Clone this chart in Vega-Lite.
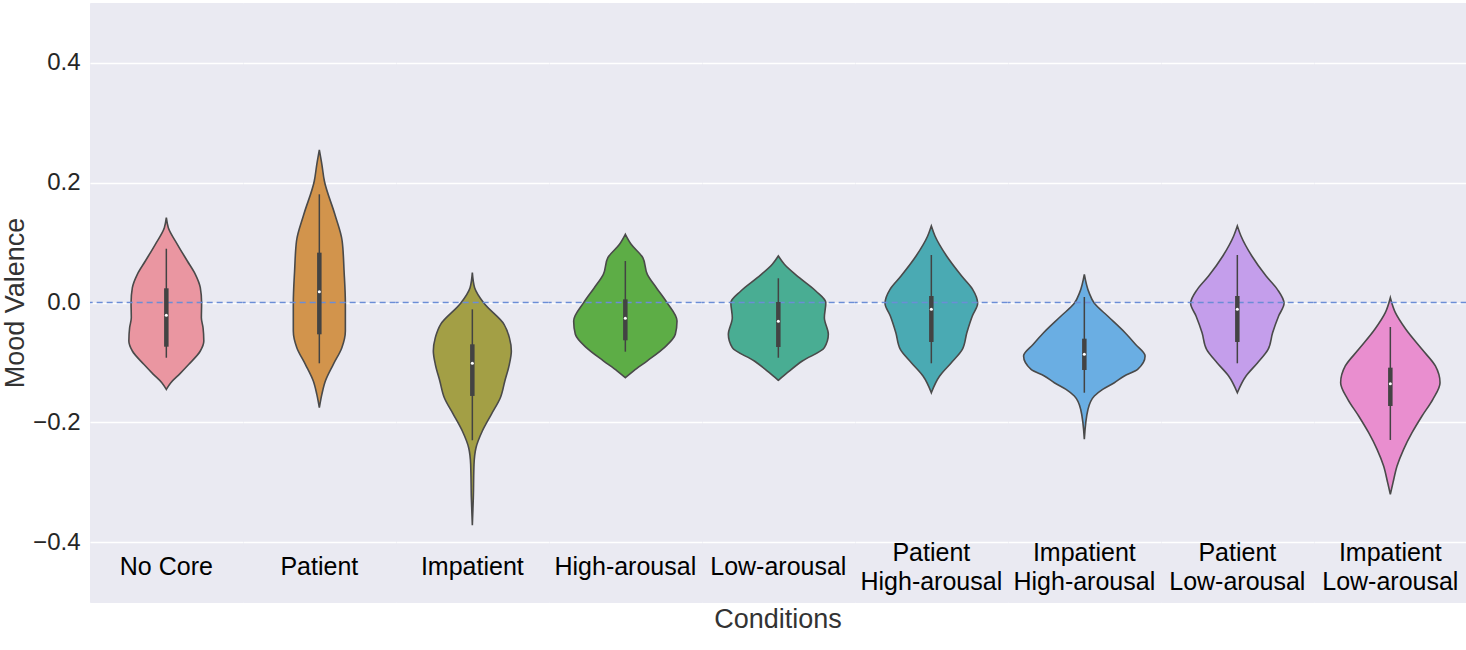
{
  "$schema": "https://vega.github.io/schema/vega-lite/v6.json",
  "background": "white",
  "padding": {"left": 1, "top": 2, "right": 2, "bottom": 2},
  "bounds": "flush",
  "config": {
    "font": "Liberation Sans",
    "view": {"fill": "#EAEAF2", "stroke": "#EAEAF2", "strokeWidth": 1},
    "facet": {"spacing": 0},
    "axis": {
      "grid": true,
      "gridColor": "#ffffff",
      "gridWidth": 1.5,
      "domain": false,
      "ticks": false,
      "labelFontSize": 24,
      "labelColor": "#262626",
      "labelPadding": 10,
      "titleFontSize": 27,
      "titleColor": "#333333",
      "titleFontWeight": "normal",
      "titlePadding": 3
    }
  },
  "data": {
    "values": [
      {"kind": "profile", "condition": "No Core", "value": 0.1416, "density": 0},
      {"kind": "profile", "condition": "No Core", "value": 0.1249, "density": 0.026},
      {"kind": "profile", "condition": "No Core", "value": 0.0972, "density": 0.144},
      {"kind": "profile", "condition": "No Core", "value": 0.0693, "density": 0.275},
      {"kind": "profile", "condition": "No Core", "value": 0.0471, "density": 0.38},
      {"kind": "profile", "condition": "No Core", "value": 0.0247, "density": 0.445},
      {"kind": "profile", "condition": "No Core", "value": -0.0003, "density": 0.462},
      {"kind": "profile", "condition": "No Core", "value": -0.0254, "density": 0.459},
      {"kind": "profile", "condition": "No Core", "value": -0.0421, "density": 0.481},
      {"kind": "profile", "condition": "No Core", "value": -0.0643, "density": 0.491},
      {"kind": "profile", "condition": "No Core", "value": -0.081, "density": 0.445},
      {"kind": "profile", "condition": "No Core", "value": -0.1032, "density": 0.295},
      {"kind": "profile", "condition": "No Core", "value": -0.1199, "density": 0.17},
      {"kind": "profile", "condition": "No Core", "value": -0.1339, "density": 0.059},
      {"kind": "profile", "condition": "No Core", "value": -0.145, "density": 0},

      {"kind": "profile", "condition": "Patient", "value": 0.2546, "density": 0},
      {"kind": "profile", "condition": "Patient", "value": 0.2307, "density": 0.033},
      {"kind": "profile", "condition": "Patient", "value": 0.2028, "density": 0.066},
      {"kind": "profile", "condition": "Patient", "value": 0.1472, "density": 0.203},
      {"kind": "profile", "condition": "Patient", "value": 0.1027, "density": 0.299},
      {"kind": "profile", "condition": "Patient", "value": 0.0526, "density": 0.324},
      {"kind": "profile", "condition": "Patient", "value": -0.0014, "density": 0.341},
      {"kind": "profile", "condition": "Patient", "value": -0.0476, "density": 0.341},
      {"kind": "profile", "condition": "Patient", "value": -0.0754, "density": 0.295},
      {"kind": "profile", "condition": "Patient", "value": -0.1032, "density": 0.183},
      {"kind": "profile", "condition": "Patient", "value": -0.131, "density": 0.079},
      {"kind": "profile", "condition": "Patient", "value": -0.1533, "density": 0.033},
      {"kind": "profile", "condition": "Patient", "value": -0.1756, "density": 0},

      {"kind": "profile", "condition": "Impatient", "value": 0.0498, "density": 0},
      {"kind": "profile", "condition": "Impatient", "value": 0.0247, "density": 0.03},
      {"kind": "profile", "condition": "Impatient", "value": -0.0014, "density": 0.153},
      {"kind": "profile", "condition": "Impatient", "value": -0.0364, "density": 0.415},
      {"kind": "profile", "condition": "Impatient", "value": -0.0587, "density": 0.485},
      {"kind": "profile", "condition": "Impatient", "value": -0.081, "density": 0.511},
      {"kind": "profile", "condition": "Impatient", "value": -0.1032, "density": 0.485},
      {"kind": "profile", "condition": "Impatient", "value": -0.131, "density": 0.426},
      {"kind": "profile", "condition": "Impatient", "value": -0.159, "density": 0.367},
      {"kind": "profile", "condition": "Impatient", "value": -0.1866, "density": 0.249},
      {"kind": "profile", "condition": "Impatient", "value": -0.2145, "density": 0.131},
      {"kind": "profile", "condition": "Impatient", "value": -0.2424, "density": 0.048},
      {"kind": "profile", "condition": "Impatient", "value": -0.2701, "density": 0.022},
      {"kind": "profile", "condition": "Impatient", "value": -0.3259, "density": 0.013},
      {"kind": "profile", "condition": "Impatient", "value": -0.372, "density": 0},

      {"kind": "profile", "condition": "High-arousal", "value": 0.1138, "density": 0},
      {"kind": "profile", "condition": "High-arousal", "value": 0.0972, "density": 0.076},
      {"kind": "profile", "condition": "High-arousal", "value": 0.0748, "density": 0.229},
      {"kind": "profile", "condition": "High-arousal", "value": 0.0471, "density": 0.288},
      {"kind": "profile", "condition": "High-arousal", "value": 0.0247, "density": 0.406},
      {"kind": "profile", "condition": "High-arousal", "value": -0.0003, "density": 0.546},
      {"kind": "profile", "condition": "High-arousal", "value": -0.0309, "density": 0.677},
      {"kind": "profile", "condition": "High-arousal", "value": -0.0531, "density": 0.655},
      {"kind": "profile", "condition": "High-arousal", "value": -0.0754, "density": 0.511},
      {"kind": "profile", "condition": "High-arousal", "value": -0.0977, "density": 0.284},
      {"kind": "profile", "condition": "High-arousal", "value": -0.1144, "density": 0.105},
      {"kind": "profile", "condition": "High-arousal", "value": -0.1255, "density": 0},

      {"kind": "profile", "condition": "Low-arousal", "value": 0.0776, "density": 0},
      {"kind": "profile", "condition": "Low-arousal", "value": 0.0638, "density": 0.079},
      {"kind": "profile", "condition": "Low-arousal", "value": 0.0414, "density": 0.275},
      {"kind": "profile", "condition": "Low-arousal", "value": 0.0192, "density": 0.491},
      {"kind": "profile", "condition": "Low-arousal", "value": -0.0003, "density": 0.622},
      {"kind": "profile", "condition": "Low-arousal", "value": -0.0254, "density": 0.603},
      {"kind": "profile", "condition": "Low-arousal", "value": -0.0531, "density": 0.655},
      {"kind": "profile", "condition": "Low-arousal", "value": -0.0754, "density": 0.603},
      {"kind": "profile", "condition": "Low-arousal", "value": -0.0977, "density": 0.314},
      {"kind": "profile", "condition": "Low-arousal", "value": -0.1172, "density": 0.118},
      {"kind": "profile", "condition": "Low-arousal", "value": -0.1299, "density": 0},

      {"kind": "profile", "condition": "Patient High-arousal", "value": 0.1277, "density": 0},
      {"kind": "profile", "condition": "Patient High-arousal", "value": 0.111, "density": 0.048},
      {"kind": "profile", "condition": "Patient High-arousal", "value": 0.0776, "density": 0.2},
      {"kind": "profile", "condition": "Patient High-arousal", "value": 0.0442, "density": 0.397},
      {"kind": "profile", "condition": "Patient High-arousal", "value": 0.022, "density": 0.541},
      {"kind": "profile", "condition": "Patient High-arousal", "value": -0.0014, "density": 0.607},
      {"kind": "profile", "condition": "Patient High-arousal", "value": -0.0225, "density": 0.537},
      {"kind": "profile", "condition": "Patient High-arousal", "value": -0.0504, "density": 0.465},
      {"kind": "profile", "condition": "Patient High-arousal", "value": -0.0782, "density": 0.406},
      {"kind": "profile", "condition": "Patient High-arousal", "value": -0.1005, "density": 0.262},
      {"kind": "profile", "condition": "Patient High-arousal", "value": -0.1227, "density": 0.109},
      {"kind": "profile", "condition": "Patient High-arousal", "value": -0.1506, "density": 0},

      {"kind": "profile", "condition": "Impatient High-arousal", "value": 0.0471, "density": 0},
      {"kind": "profile", "condition": "Impatient High-arousal", "value": 0.0164, "density": 0.062},
      {"kind": "profile", "condition": "Impatient High-arousal", "value": -0.0014, "density": 0.131},
      {"kind": "profile", "condition": "Impatient High-arousal", "value": -0.0225, "density": 0.305},
      {"kind": "profile", "condition": "Impatient High-arousal", "value": -0.0504, "density": 0.534},
      {"kind": "profile", "condition": "Impatient High-arousal", "value": -0.07, "density": 0.672},
      {"kind": "profile", "condition": "Impatient High-arousal", "value": -0.0893, "density": 0.796},
      {"kind": "profile", "condition": "Impatient High-arousal", "value": -0.1116, "density": 0.698},
      {"kind": "profile", "condition": "Impatient High-arousal", "value": -0.1227, "density": 0.524},
      {"kind": "profile", "condition": "Impatient High-arousal", "value": -0.1339, "density": 0.393},
      {"kind": "profile", "condition": "Impatient High-arousal", "value": -0.145, "density": 0.24},
      {"kind": "profile", "condition": "Impatient High-arousal", "value": -0.1561, "density": 0.131},
      {"kind": "profile", "condition": "Impatient High-arousal", "value": -0.1783, "density": 0.048},
      {"kind": "profile", "condition": "Impatient High-arousal", "value": -0.2284, "density": 0},

      {"kind": "profile", "condition": "Patient Low-arousal", "value": 0.1277, "density": 0},
      {"kind": "profile", "condition": "Patient Low-arousal", "value": 0.111, "density": 0.048},
      {"kind": "profile", "condition": "Patient Low-arousal", "value": 0.0776, "density": 0.19},
      {"kind": "profile", "condition": "Patient Low-arousal", "value": 0.0442, "density": 0.377},
      {"kind": "profile", "condition": "Patient Low-arousal", "value": 0.022, "density": 0.524},
      {"kind": "profile", "condition": "Patient Low-arousal", "value": -0.0014, "density": 0.612},
      {"kind": "profile", "condition": "Patient Low-arousal", "value": -0.0225, "density": 0.541},
      {"kind": "profile", "condition": "Patient Low-arousal", "value": -0.0504, "density": 0.462},
      {"kind": "profile", "condition": "Patient Low-arousal", "value": -0.0782, "density": 0.403},
      {"kind": "profile", "condition": "Patient Low-arousal", "value": -0.1005, "density": 0.266},
      {"kind": "profile", "condition": "Patient Low-arousal", "value": -0.1227, "density": 0.114},
      {"kind": "profile", "condition": "Patient Low-arousal", "value": -0.1506, "density": 0},

      {"kind": "profile", "condition": "Impatient Low-arousal", "value": 0.008, "density": 0},
      {"kind": "profile", "condition": "Impatient Low-arousal", "value": -0.017, "density": 0.066},
      {"kind": "profile", "condition": "Impatient Low-arousal", "value": -0.0447, "density": 0.203},
      {"kind": "profile", "condition": "Impatient Low-arousal", "value": -0.0782, "density": 0.415},
      {"kind": "profile", "condition": "Impatient Low-arousal", "value": -0.106, "density": 0.59},
      {"kind": "profile", "condition": "Impatient Low-arousal", "value": -0.1339, "density": 0.651},
      {"kind": "profile", "condition": "Impatient Low-arousal", "value": -0.1616, "density": 0.557},
      {"kind": "profile", "condition": "Impatient Low-arousal", "value": -0.1895, "density": 0.415},
      {"kind": "profile", "condition": "Impatient Low-arousal", "value": -0.2174, "density": 0.284},
      {"kind": "profile", "condition": "Impatient Low-arousal", "value": -0.2451, "density": 0.174},
      {"kind": "profile", "condition": "Impatient Low-arousal", "value": -0.273, "density": 0.088},
      {"kind": "profile", "condition": "Impatient Low-arousal", "value": -0.3008, "density": 0.035},
      {"kind": "profile", "condition": "Impatient Low-arousal", "value": -0.3202, "density": 0},

      {"kind": "stats", "condition": "No Core", "label": "No Core", "lines": 1, "lo": -0.0922, "q1": -0.0738, "median": -0.0214, "q3": 0.0237, "hi": 0.0898},
      {"kind": "stats", "condition": "Patient", "label": "Patient", "lines": 1, "lo": -0.1015, "q1": -0.0531, "median": 0.018, "q3": 0.0832, "hi": 0.1806},
      {"kind": "stats", "condition": "Impatient", "label": "Impatient", "lines": 1, "lo": -0.23, "q1": -0.156, "median": -0.1015, "q3": -0.0698, "hi": -0.0114},
      {"kind": "stats", "condition": "High-arousal", "label": "High-arousal", "lines": 1, "lo": -0.0821, "q1": -0.0631, "median": -0.0264, "q3": 0.0053, "hi": 0.0693},
      {"kind": "stats", "condition": "Low-arousal", "label": "Low-arousal", "lines": 1, "lo": -0.0922, "q1": -0.0743, "median": -0.0314, "q3": 0.0008, "hi": 0.0404},
      {"kind": "stats", "condition": "Patient High-arousal", "label": "Patient\nHigh-arousal", "lines": 2, "lo": -0.1015, "q1": -0.0659, "median": -0.0114, "q3": 0.0109, "hi": 0.0793},
      {"kind": "stats", "condition": "Impatient High-arousal", "label": "Impatient\nHigh-arousal", "lines": 2, "lo": -0.1506, "q1": -0.1127, "median": -0.0865, "q3": -0.0604, "hi": 0.0092},
      {"kind": "stats", "condition": "Patient Low-arousal", "label": "Patient\nLow-arousal", "lines": 2, "lo": -0.1015, "q1": -0.0659, "median": -0.0114, "q3": 0.0109, "hi": 0.0793},
      {"kind": "stats", "condition": "Impatient Low-arousal", "label": "Impatient\nLow-arousal", "lines": 2, "lo": -0.2295, "q1": -0.1728, "median": -0.1356, "q3": -0.1088, "hi": -0.0409}
    ]
  },
  "spacing": 0,
  "facet": {
    "column": {
      "field": "condition",
      "type": "nominal",
      "sort": ["No Core", "Patient", "Impatient", "High-arousal", "Low-arousal", "Patient High-arousal", "Impatient High-arousal", "Patient Low-arousal", "Impatient Low-arousal"],
      "header": {
        "title": "Conditions",
        "titleOrient": "bottom",
        "labels": false,
        "titleFontSize": 27,
        "titleFontWeight": "normal",
        "titleColor": "#333333",
        "titlePadding": -5
      }
    }
  },
  "spec": {
    "width": 152.67,
    "height": 599,
    "layer": [
      {
        "transform": [
          {"filter": "datum.kind === 'profile'"},
          {"calculate": "-datum.density / 2", "as": "left"},
          {"calculate": "datum.density / 2", "as": "right"}
        ],
        "mark": {"type": "area", "orient": "horizontal", "interpolate": "monotone", "stroke": "#4a4a4a", "strokeWidth": 1.6},
        "encoding": {
          "x": {"field": "left", "type": "quantitative", "scale": {"domain": [-0.5, 0.5]}, "axis": null},
          "x2": {"field": "right"},
          "y": {
            "field": "value",
            "type": "quantitative",
            "title": "Mood Valence",
            "scale": {"domain": [-0.5, 0.5], "nice": false},
            "axis": {"values": [-0.4, -0.2, 0, 0.2, 0.4], "format": ".1f"}
          },
          "color": {
            "field": "condition",
            "type": "nominal",
            "legend": null,
            "scale": {
              "domain": ["No Core", "Patient", "Impatient", "High-arousal", "Low-arousal", "Patient High-arousal", "Impatient High-arousal", "Patient Low-arousal", "Impatient Low-arousal"],
              "range": ["#EA96A1", "#D2944C", "#A39F45", "#5DAD46", "#49AD93", "#4AAAB3", "#6AAEE3", "#C49EEB", "#E98ECF"]
            }
          }
        }
      },
      {
        "transform": [{"filter": "datum.kind === 'stats'"}],
        "mark": {"type": "rule", "color": "#6B8DD6", "strokeDash": [6, 4], "strokeWidth": 1.5},
        "encoding": {"y": {"datum": 0, "type": "quantitative"}}
      },
      {
        "transform": [{"filter": "datum.kind === 'stats'"}],
        "mark": {"type": "rule", "color": "#434343", "strokeWidth": 1.5},
        "encoding": {
          "x": {"datum": 0, "type": "quantitative", "axis": null},
          "y": {"field": "lo", "type": "quantitative", "title": "Mood Valence"},
          "y2": {"field": "hi"}
        }
      },
      {
        "transform": [{"filter": "datum.kind === 'stats'"}],
        "mark": {"type": "rule", "color": "#434343", "strokeWidth": 4.5},
        "encoding": {
          "x": {"datum": 0, "type": "quantitative", "axis": null},
          "y": {"field": "q1", "type": "quantitative", "title": "Mood Valence"},
          "y2": {"field": "q3"}
        }
      },
      {
        "transform": [{"filter": "datum.kind === 'stats'"}],
        "mark": {"type": "point", "filled": true, "color": "#ffffff", "opacity": 1, "size": 9},
        "encoding": {
          "x": {"datum": 0, "type": "quantitative", "axis": null},
          "y": {"field": "median", "type": "quantitative", "title": "Mood Valence"}
        }
      },
      {
        "transform": [{"filter": "datum.kind === 'stats' && datum.lines === 1"}],
        "mark": {"type": "text", "fontSize": 25, "color": "#000000", "baseline": "middle", "align": "center"},
        "encoding": {
          "x": {"datum": 0, "type": "quantitative", "axis": null},
          "y": {"datum": -0.4416, "type": "quantitative"},
          "text": {"field": "label"}
        }
      },
      {
        "transform": [{"filter": "datum.kind === 'stats' && datum.lines === 2"}],
        "mark": {"type": "text", "fontSize": 25, "color": "#000000", "baseline": "middle", "align": "center", "lineBreak": "\n", "lineHeight": 29},
        "encoding": {
          "x": {"datum": 0, "type": "quantitative", "axis": null},
          "y": {"datum": -0.4174, "type": "quantitative"},
          "text": {"field": "label"}
        }
      }
    ]
  }
}
